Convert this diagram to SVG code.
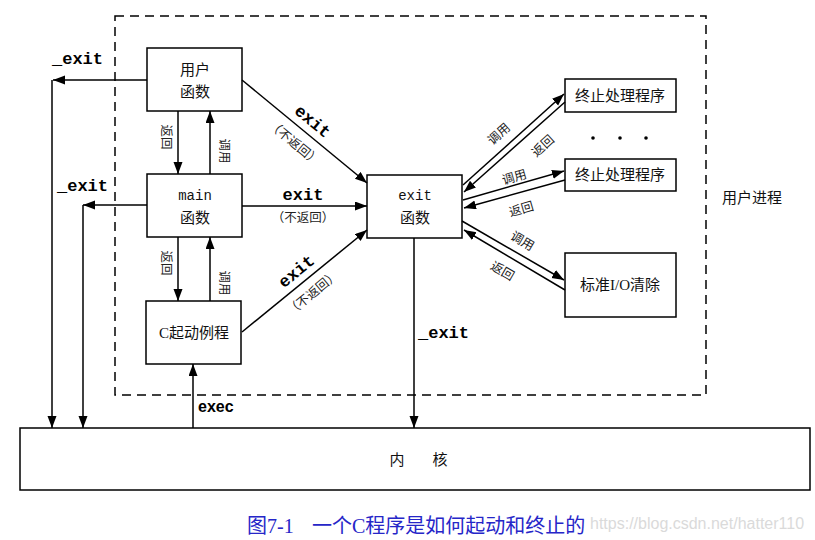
<svg xmlns="http://www.w3.org/2000/svg" width="815" height="540" viewBox="0 0 815 540">
<style>
.box{fill:#fff;stroke:#000;stroke-width:1.5}
.ln{fill:none;stroke:#000;stroke-width:1.5}
.arr{fill:none;stroke:#000;stroke-width:1.5;marker-end:url(#ah)}
.cjk{font-family:"Liberation Serif","Noto Sans CJK SC",serif;font-size:15px;fill:#111}
.mono{font-family:"Liberation Mono","DejaVu Sans Mono",monospace;font-size:14px;fill:#111}
.bm{font-family:"Liberation Mono","DejaVu Sans Mono",monospace;font-size:17px;font-weight:bold;fill:#000}
.sm{font-family:"Noto Sans CJK SC",sans-serif;font-size:12.5px;fill:#222}
.c{text-anchor:middle;dominant-baseline:central}
</style>
<defs>
<marker id="ah" markerWidth="13" markerHeight="10" refX="12" refY="4.5" orient="auto" markerUnits="userSpaceOnUse">
<path d="M0,0 L12,4.5 L0,9 z" fill="#000"/>
</marker>
</defs>
<rect x="0" y="0" width="815" height="540" fill="#fff"/>
<g id="user-process">
<rect x="115" y="16" width="591" height="379" fill="none" stroke="#000" stroke-width="1.5" stroke-dasharray="9,6"/>
<text class="cjk c" x="752" y="198">用户进程</text>
</g>
<g id="kernel">
<rect class="box" x="20" y="428" width="790" height="62"/>
<text class="cjk c" x="397" y="460">内</text>
<text class="cjk c" x="440" y="460">核</text>
</g>
<g id="user-func">
<rect class="box" x="147" y="48" width="95" height="63"/>
<text class="cjk c" x="195" y="70">用户</text>
<text class="cjk c" x="195" y="92">函数</text>
</g>
<g id="main-func">
<rect class="box" x="147" y="174" width="95" height="63"/>
<text class="mono c" x="195" y="196">main</text>
<text class="cjk c" x="195" y="218">函数</text>
</g>
<g id="c-startup">
<rect class="box" x="146" y="301" width="95" height="63"/>
<text class="cjk c" x="194" y="333">C起动例程</text>
</g>
<g id="exit-func">
<rect class="box" x="367" y="175" width="95" height="63"/>
<text class="mono c" x="415" y="196">exit</text>
<text class="cjk c" x="415" y="218">函数</text>
</g>
<g id="handler1">
<rect class="box" x="565" y="79" width="111" height="33"/>
<text class="cjk c" x="620" y="96">终止处理程序</text>
</g>
<g id="dots">
<circle cx="593" cy="138" r="1.8" fill="#000"/>
<circle cx="620" cy="138" r="1.8" fill="#000"/>
<circle cx="646" cy="138" r="1.8" fill="#000"/>
</g>
<g id="handler2">
<rect class="box" x="565" y="159" width="111" height="32"/>
<text class="cjk c" x="620" y="175">终止处理程序</text>
</g>
<g id="stdio">
<rect class="box" x="565" y="253" width="111" height="64"/>
<text class="cjk c" x="620" y="285">标准I/O清除</text>
</g>
<g id="connectors">
<line class="arr" x1="147" y1="80" x2="53" y2="80"/>
<line class="arr" x1="52" y1="80" x2="52" y2="428"/>
<text class="bm" x="52" y="64">_exit</text>
<line class="arr" x1="147" y1="205" x2="83" y2="205"/>
<line class="arr" x1="83" y1="205" x2="83" y2="428"/>
<text class="bm" x="57" y="191">_exit</text>
<line class="arr" x1="178" y1="111" x2="178" y2="174"/>
<line class="arr" x1="210" y1="174" x2="210" y2="111"/>
<text class="sm c" transform="translate(167,137) rotate(90)">返回</text>
<text class="sm c" transform="translate(225,151) rotate(90)">调用</text>
<line class="arr" x1="178" y1="237" x2="178" y2="301"/>
<line class="arr" x1="210" y1="301" x2="210" y2="237"/>
<text class="sm c" transform="translate(167,263) rotate(90)">返回</text>
<text class="sm c" transform="translate(225,283) rotate(90)">调用</text>
<line class="arr" x1="193" y1="428" x2="193" y2="364"/>
<text x="198" y="412" font-family="Liberation Sans,Arial,sans-serif" font-size="16" font-weight="bold">exec</text>
<line class="arr" x1="242" y1="80" x2="367" y2="183"/>
<text class="bm c" transform="translate(312,122) rotate(39.5)">exit</text>
<text class="sm c" transform="translate(295,142) rotate(39.5)">（不返回）</text>
<line class="arr" x1="242" y1="206" x2="367" y2="206"/>
<text class="bm c" x="303" y="195">exit</text>
<text class="sm c" x="303" y="216">（不返回）</text>
<line class="arr" x1="242" y1="332" x2="367" y2="230"/>
<text class="bm c" transform="translate(297,272) rotate(-39.5)">exit</text>
<text class="sm c" transform="translate(312,292) rotate(-39.5)">（不返回）</text>
<line class="arr" x1="414" y1="238" x2="414" y2="428"/>
<text class="bm" x="418" y="338">_exit</text>
<line class="arr" x1="463" y1="185" x2="564" y2="94"/>
<line class="arr" x1="565" y1="102" x2="464" y2="192"/>
<text class="sm c" transform="translate(498,133) rotate(-42)">调用</text>
<text class="sm c" transform="translate(542,145) rotate(-42)">返回</text>
<line class="arr" x1="463" y1="200" x2="564" y2="171"/>
<line class="arr" x1="565" y1="180" x2="464" y2="208"/>
<text class="sm c" transform="translate(514,176) rotate(-16)">调用</text>
<text class="sm c" transform="translate(521,208) rotate(-16)">返回</text>
<line class="arr" x1="462" y1="221" x2="564" y2="280"/>
<line class="arr" x1="565" y1="290" x2="464" y2="230"/>
<text class="sm c" transform="translate(523,240) rotate(30)">调用</text>
<text class="sm c" transform="translate(503,270) rotate(30)">返回</text>
</g>
<g id="caption">
<text x="247" y="533" font-family="Liberation Serif,'Noto Sans CJK SC',serif" font-size="20" fill="#2626c8">图7-1<tspan x="312">一个C程序是如何起动和终止的</tspan></text>
<text x="590" y="529" font-family="Liberation Sans,Arial,sans-serif" font-size="16" fill="#dadada">https://blog.csdn.net/hatter110</text>
</g>
</svg>
